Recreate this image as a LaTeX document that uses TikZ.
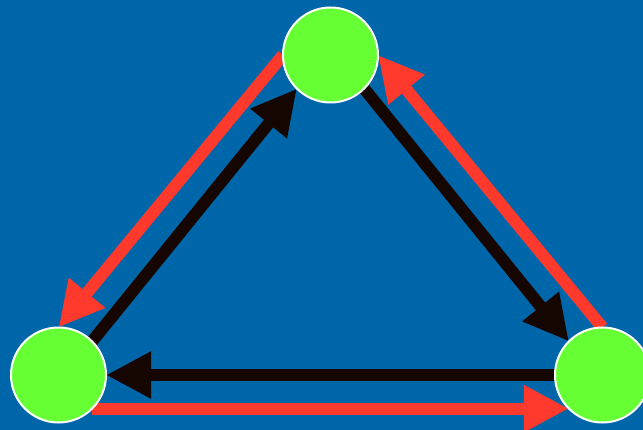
\documentclass[tikz,border=0pt]{standalone}
\usetikzlibrary{arrows.meta}
\pgfdeclarelayer{bg}
\pgfsetlayers{bg,main}
\definecolor{bgblue}{RGB}{0,102,170}
\definecolor{nodegreen}{RGB}{102,255,51}
\definecolor{arrred}{RGB}{255,57,43}
\definecolor{arrblack}{RGB}{22,6,2}
\tikzset{
  vertex/.style={circle, fill=nodegreen, draw=white, line width=2pt, minimum size=95pt, inner sep=0pt, outer sep=0pt},
  bigarrow/.style={line width=12pt, -{Triangle[length=45pt,width=44pt]}},
  inner/.style={bigarrow, draw=arrblack},
  outer/.style={bigarrow, draw=arrred},
}
\begin{document}
\begin{tikzpicture}[x=1pt,y=-1pt]
\useasboundingbox (0,0) rectangle (643,430);
\node[vertex] (top) at (330.5,55) {};
\node[vertex] (bl) at (58.5,375) {};
\node[vertex] (br) at (602.5,375) {};
\begin{pgfonlayer}{bg}
\fill[bgblue] (0,0) rectangle (643,430);
\draw[inner] (bl.45) -- (top.225);
\draw[inner] (top.-45) -- (br.135);
\draw[inner] (br.west) -- (bl.east);
\draw[outer] (top.west) -- (bl.north);
\draw[outer] (br.north) -- (top.east);
\draw[outer] (bl.-45) -- (br.-135);
\end{pgfonlayer}
\end{tikzpicture}
\end{document}
